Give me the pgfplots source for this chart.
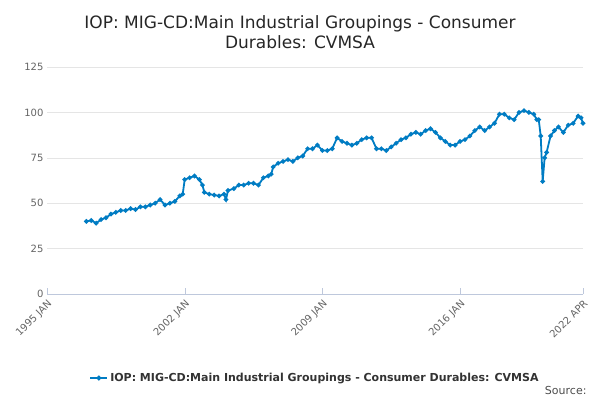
\documentclass[border=0pt]{standalone}
\usepackage{pgfplots}
\pgfplotsset{compat=1.18}
\usepackage{fontspec}
\setmainfont{DejaVu Sans}
\definecolor{ser}{RGB}{0,124,195}
\definecolor{tk}{RGB}{100,100,100}
\begin{document}
\begin{tikzpicture}
\useasboundingbox (0,0) rectangle (600pt,400pt);
\node[font=\fontsize{17}{20}\selectfont,text=black!85,align=center] at (300pt,368pt) {IOP: MIG-CD:Main Industrial Groupings - Consumer\\Durables: CVMSA};
\begin{axis}[at={(47pt,106pt)},anchor=south west,scale only axis,width=536pt,height=227pt,
 xmin=1995,xmax=2022.25,ymin=0,ymax=125,
 ytick={0,25,50,75,100,125},
 ymajorgrids, grid style={gray!20},
 axis x line*=bottom, axis y line*=left,
 y axis line style={draw=none}, ytick style={draw=none},
 x axis line style={draw={rgb,255:red,190;green,200;blue,220}},
 xtick={1995,2002,2009,2016,2022.25},
 xticklabels={1995 JAN,2002 JAN,2009 JAN,2016 JAN,2022 APR},
 x tick label style={rotate=45,anchor=north east,font=\fontsize{10}{12}\selectfont,text=tk},
 y tick label style={font=\fontsize{10}{12}\selectfont,text=tk},
 xtick style={draw={rgb,255:red,190;green,200;blue,220}},
 major tick length=6pt,
 /pgf/number format/assume math mode=true,
 legend style={at={(0.5,-0.33)},anchor=north,draw=none,font=\fontsize{11}{13}\selectfont\bfseries,text=black!80},
 legend image post style={mark size=1.5pt},
]
\addplot[ser,line width=1.8pt,mark=*,mark size=1.3pt] coordinates {
(1997.0,40)(1997.25,40.5)(1997.5,39)(1997.75,41)(1998.0,42)(1998.25,44)(1998.5,45)(1998.75,46)(1999.0,46)(1999.25,47)(1999.5,46.5)(1999.75,48)(2000.0,48)(2000.25,49)(2000.5,50)(2000.75,52)(2001.0,49)(2001.25,50)(2001.5,51)(2001.75,54)(2001.9,55)(2002.0,63)(2002.25,64)(2002.5,65)(2002.75,63)(2002.9,60)(2003.0,56)(2003.25,55)(2003.5,54.5)(2003.75,54)(2004.0,55)(2004.1,52)(2004.2,57)(2004.5,58)(2004.75,60)(2005.0,60)(2005.25,61)(2005.5,61)(2005.75,60)(2006.0,64)(2006.25,65)(2006.4,66)(2006.5,70)(2006.75,72)(2007.0,73)(2007.25,74)(2007.5,73)(2007.75,75)(2008.0,76)(2008.25,80)(2008.5,80)(2008.75,82)(2009.0,79)(2009.25,79)(2009.5,80)(2009.75,86)(2010.0,84)(2010.25,83)(2010.5,82)(2010.75,83)(2011.0,85)(2011.25,86)(2011.5,86)(2011.75,80)(2012.0,80)(2012.25,79)(2012.5,81)(2012.75,83)(2013.0,85)(2013.25,86)(2013.5,88)(2013.75,89)(2014.0,88)(2014.25,90)(2014.5,91)(2014.75,89)(2015.0,86)(2015.25,84)(2015.5,82)(2015.75,82)(2016.0,84)(2016.25,85)(2016.5,87)(2016.75,90)(2017.0,92)(2017.25,90)(2017.5,92)(2017.75,94)(2018.0,99)(2018.25,99)(2018.5,97)(2018.75,96)(2019.0,100)(2019.25,101)(2019.5,100)(2019.75,99)(2019.9,96)(2020.0,96)(2020.1,87)(2020.2,62)(2020.3,75)(2020.4,78)(2020.6,87)(2020.8,90)(2021.0,92)(2021.25,89)(2021.5,93)(2021.75,94)(2022.0,98)(2022.15,97)(2022.25,94)
};
\addlegendentry{IOP: MIG-CD:Main Industrial Groupings - Consumer Durables: CVMSA}
\end{axis}
\node[anchor=south east,font=\fontsize{11}{13}\selectfont,text=black!70] at (590pt,2pt) {Source:};
\end{tikzpicture}
\end{document}
